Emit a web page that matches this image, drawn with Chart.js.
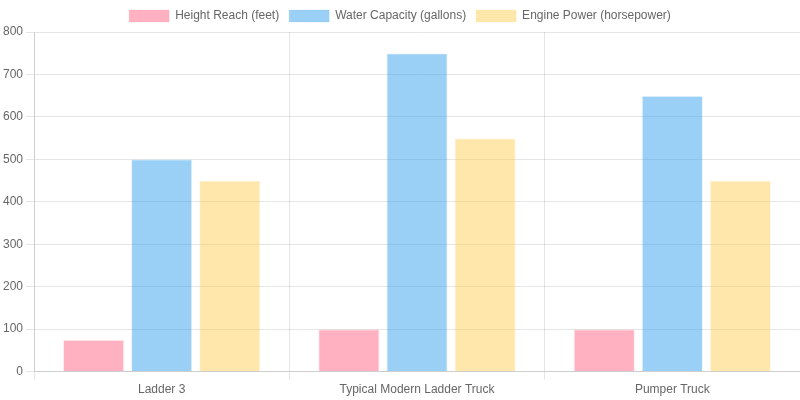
<!DOCTYPE html>
<html>
<head>
<meta charset="utf-8">
<script src="https://cdn.jsdelivr.net/npm/chart.js@4/dist/chart.umd.min.js"></script>
<style>
    body { margin: 0; background: #fff; }
    #wrap { width: 800px; height: 400px; }
</style>
</head>
<body>
<div id="wrap"><canvas id="myChart"></canvas></div>
<script>
const trucks = ['Ladder 3', 'Typical Modern Ladder Truck', 'Pumper Truck'];
const heightReach = [75, 100, 100];
const waterCapacity = [500, 750, 650];
const enginePower = [450, 550, 450];

var ctx = document.getElementById('myChart').getContext('2d');
var chart = new Chart(ctx, {
    type: 'bar',
    data: {
        labels: trucks,
        datasets: [{
            label: 'Height Reach (feet)',
            data: heightReach,
            backgroundColor: 'rgba(255, 99, 132, 0.5)',
            borderColor: 'rgba(255, 99, 132, 0.1)',
            borderWidth: 1
        }, {
            label: 'Water Capacity (gallons)',
            data: waterCapacity,
            backgroundColor: 'rgba(54, 162, 235, 0.5)',
            borderColor: 'rgba(54, 162, 235, 0.1)',
            borderWidth: 1
        }, {
            label: 'Engine Power (horsepower)',
            data: enginePower,
            backgroundColor: 'rgba(255, 206, 86, 0.5)',
            borderColor: 'rgba(255, 206, 86, 0.1)',
            borderWidth: 1
        }]
    },
    options: {
        responsive: true,
        maintainAspectRatio: false,
        animation: false,
        scales: {
            y: {
                beginAtZero: true,
                max: 800,
                ticks: { stepSize: 100 }
            }
        }
    }
});
</script>
</body>
</html>
